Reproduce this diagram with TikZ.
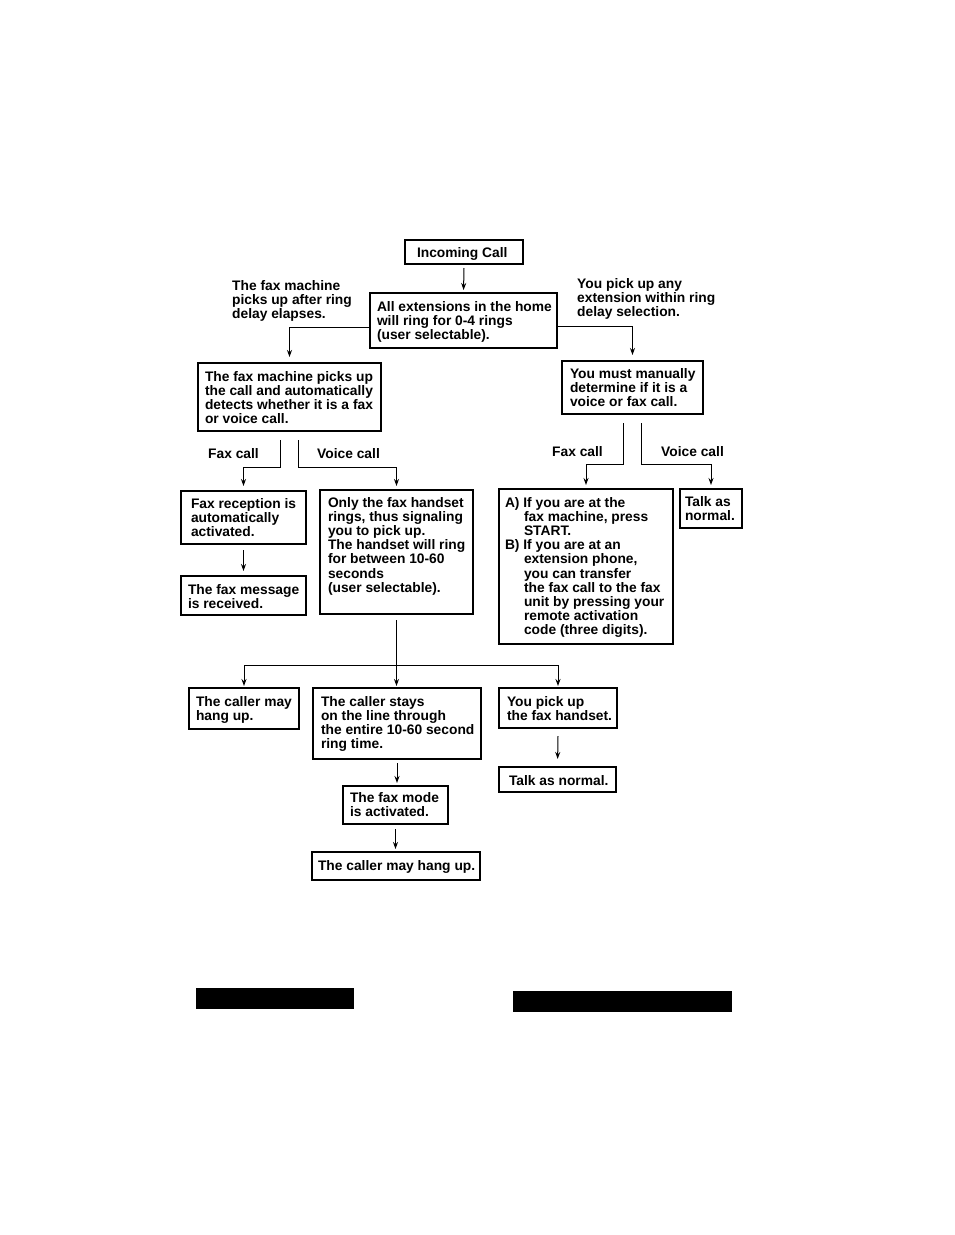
\documentclass[tikz,border=0pt]{standalone}
\usepackage{fontspec}
\setmainfont{Liberation Sans}
\usetikzlibrary{arrows.meta}
\newcommand\flowbox[8]{%
  \pgfmathsetmacro\bw{#4-#2}%
  \pgfmathsetmacro\bh{#5-#3}%
  \pgfmathsetmacro\tw{#4-#2-#6}%
  \node[box, anchor=north west, minimum width=\bw pt, minimum height=\bh pt] (#1) at (#2,#3)
    {\hspace*{#6pt}\parbox[c][\bh pt][t]{\tw pt}{\raggedright\rule{0pt}{#7pt}#8}};%
}
\newcommand\hind{\hspace*{19pt}}
\begin{document}
\begin{tikzpicture}[x=1pt,y=-1pt,
  every node/.style={font=\fontsize{13.8pt}{14.2pt}\selectfont\bfseries},
  box/.style={draw, line width=1.8pt, inner xsep=0pt, inner ysep=0pt, outer sep=0pt},
  lbl/.style={inner sep=0pt, anchor=base west},
  line/.style={line width=1pt},
  arr/.style={line width=1pt, -{Stealth[length=7pt,width=5pt]}, shorten >=3pt}]
\useasboundingbox (0,0) rectangle (954,1235);

\flowbox{inc}{405}{240}{523}{264}{12}{17}{Incoming Call}
\flowbox{ext}{370}{293}{557}{348}{7}{18}{All extensions in the home\\will ring for 0-4 rings\\(user selectable).}
\flowbox{fm}{198}{363}{381}{431}{7}{18}{The fax machine picks up\\the call and automatically\\detects whether it is a fax\\or voice call.}
\flowbox{man}{562}{361}{703}{414}{8}{17}{You must manually\\determine if it is a\\voice or fax call.}
\flowbox{rec}{181}{491}{306}{544}{10}{17}{Fax reception is\\automatically\\activated.}
\flowbox{msg}{181}{576}{306}{615}{7}{18}{The fax message\\is received.}
\flowbox{only}{320}{490}{473}{614}{8}{17}{Only the fax handset\\rings, thus signaling\\you to pick up.\\The handset will ring\\for between 10-60\\seconds\\(user selectable).}
\flowbox{ab}{499}{489}{673}{644}{6}{18}{A) If you are at the\\\hind fax machine, press\\\hind START.\\B) If you are at an\\\hind extension phone,\\\hind you can transfer\\\hind the fax call to the fax\\\hind unit by pressing your\\\hind remote activation\\\hind code (three digits).}
\flowbox{tan}{680}{489}{742}{528}{5}{17}{Talk as\\normal.}
\flowbox{hang}{189}{688}{299}{729}{7}{18}{The caller may\\hang up.}
\flowbox{stays}{313}{688}{481}{759}{8}{18}{The caller stays\\on the line through\\the entire 10-60 second\\ring time.}
\flowbox{pick}{499}{688}{617}{728}{8}{18}{You pick up\\the fax handset.}
\flowbox{talk}{499}{767}{616}{792}{10}{18}{Talk as normal.}
\flowbox{mode}{343}{786}{448}{824}{7}{16}{The fax mode\\is activated.}
\flowbox{hangb}{312}{852}{480}{880}{6}{18}{The caller may hang up.}

\node[lbl] (lblL) at (232,290) {\parbox[t]{150pt}{\raggedright The fax machine\\picks up after ring\\delay elapses.}};
\node[lbl] (lblR) at (577,288) {\parbox[t]{150pt}{\raggedright You pick up any\\extension within ring\\delay selection.}};
\node[lbl] (fcL) at (208,458) {Fax call};
\node[lbl] (vcL) at (317,458) {Voice call};
\node[lbl] (fcR) at (552,456) {Fax call};
\node[lbl] (vcR) at (661,456) {Voice call};

\draw[arr] ([yshift=-4pt]inc.south) -- (ext.north);
\draw[arr, shorten >=6pt] ([yshift=-7pt]ext.west) -| (fm.north);
\draw[arr, shorten >=6pt] ([yshift=-6pt]ext.east) -| (man.north);
\draw[arr, shorten >=5pt] ([xshift=-9pt,yshift=-9pt]fm.south) -- ++(0,27) -| (rec.north);
\draw[arr, shorten >=4pt] ([xshift=9pt,yshift=-9pt]fm.south) -- ++(0,27) -| (only.north);
\draw[arr, shorten >=4pt] ([xshift=-9pt,yshift=-9pt]man.south) -- ++(0,41) -| (ab.north);
\draw[arr, shorten >=4pt] ([xshift=9pt,yshift=-9pt]man.south) -- ++(0,41) -| (tan.north);
\draw[arr, shorten >=5pt] ([yshift=-6pt]rec.south) -- (msg.north);
\coordinate (j) at ([yshift=-51pt]only.south);
\draw[line] ([yshift=-6pt]only.south) -- (j);
\draw[arr, shorten >=2pt] (j) -| (hang.north);
\draw[arr, shorten >=2pt] (j) -- (j |- stays.north);
\draw[arr, shorten >=2pt] (j) -| (pick.north);
\draw[arr] ([yshift=-4pt]stays.south) -- (stays.south |- mode.north);
\draw[arr] ([yshift=-5pt]mode.south) -- (mode.south |- hangb.north);
\draw[arr, shorten >=8pt] ([yshift=-8pt]pick.south) -- (talk.north);

\fill (196,988) rectangle (354,1009);
\fill (513,991) rectangle (732,1012);
\end{tikzpicture}
\end{document}
